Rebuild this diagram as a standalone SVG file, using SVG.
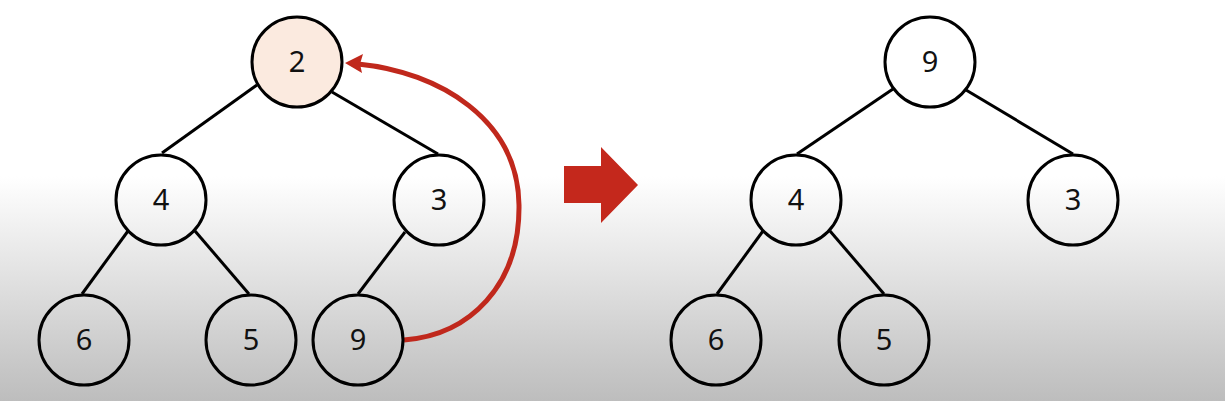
<svg xmlns="http://www.w3.org/2000/svg" width="1225" height="401" viewBox="0 0 1225 401">
<defs>
<linearGradient id="bg" x1="0" y1="0" x2="0" y2="1">
<stop offset="0" stop-color="#ffffff"/>
<stop offset="0.44" stop-color="#ffffff"/>
<stop offset="1" stop-color="#bdbdbd"/>
</linearGradient>
<marker id="ah" markerWidth="8" markerHeight="8" refX="7" refY="4" orient="auto" markerUnits="userSpaceOnUse" viewBox="0 0 8 8">
<path d="M0,0 L8,4 L0,8 Z" fill="#c0281c"/>
</marker>
</defs>
<style>
.n circle{fill:none;stroke:#000;stroke-width:3}
.n text{font-family:"Noto Sans","DejaVu Sans",sans-serif;font-size:29px;fill:#111;text-anchor:middle}
.e line{stroke:#000;stroke-width:3}
</style>
<rect x="0" y="0" width="1225" height="401" fill="url(#bg)"/>
<g id="connectors" class="e">
<line x1="257" y1="85" x2="162" y2="153"/>
<line x1="332" y1="92" x2="438" y2="154"/>
<line x1="128" y1="231" x2="82" y2="294"/>
<line x1="195" y1="231" x2="249" y2="294"/>
<line x1="405" y1="232" x2="358" y2="294"/>
<line x1="893" y1="89" x2="797" y2="154"/>
<line x1="966" y1="90" x2="1073" y2="154"/>
<line x1="763" y1="231" x2="717" y2="294"/>
<line x1="830" y1="231" x2="884" y2="294"/>
<path d="M404,340 C470,335 520,285 519,205 C518,120 440,72 358,64" fill="none" stroke="#c0281c" stroke-width="5"/>
<path d="M345,63 L363,54 L360,64 L362,73 Z" fill="#c0281c"/>
</g>
<g id="bigArrow">
<path d="M564,166 L601,166 L601,147 L638,185 L601,223 L601,203 L564,203 Z" fill="#c4281c"/>
</g>
<g id="L2" class="n"><circle cx="297" cy="62" r="45" style="fill:#fbeadf"/><text x="297" y="72">2</text></g>
<g id="L4" class="n"><circle cx="161" cy="200" r="45"/><text x="161" y="210">4</text></g>
<g id="L3" class="n"><circle cx="439" cy="200" r="45"/><text x="439" y="210">3</text></g>
<g id="L6" class="n"><circle cx="84" cy="340" r="45"/><text x="84" y="350">6</text></g>
<g id="L5" class="n"><circle cx="251" cy="340" r="45"/><text x="251" y="350">5</text></g>
<g id="L9" class="n"><circle cx="358" cy="340" r="45"/><text x="358" y="350">9</text></g>
<g id="R9" class="n"><circle cx="930" cy="62" r="45"/><text x="930" y="72">9</text></g>
<g id="R4" class="n"><circle cx="796" cy="200" r="45"/><text x="796" y="210">4</text></g>
<g id="R3" class="n"><circle cx="1073" cy="200" r="45"/><text x="1073" y="210">3</text></g>
<g id="R6" class="n"><circle cx="716" cy="340" r="45"/><text x="716" y="350">6</text></g>
<g id="R5" class="n"><circle cx="884" cy="340" r="45"/><text x="884" y="350">5</text></g>
</svg>
